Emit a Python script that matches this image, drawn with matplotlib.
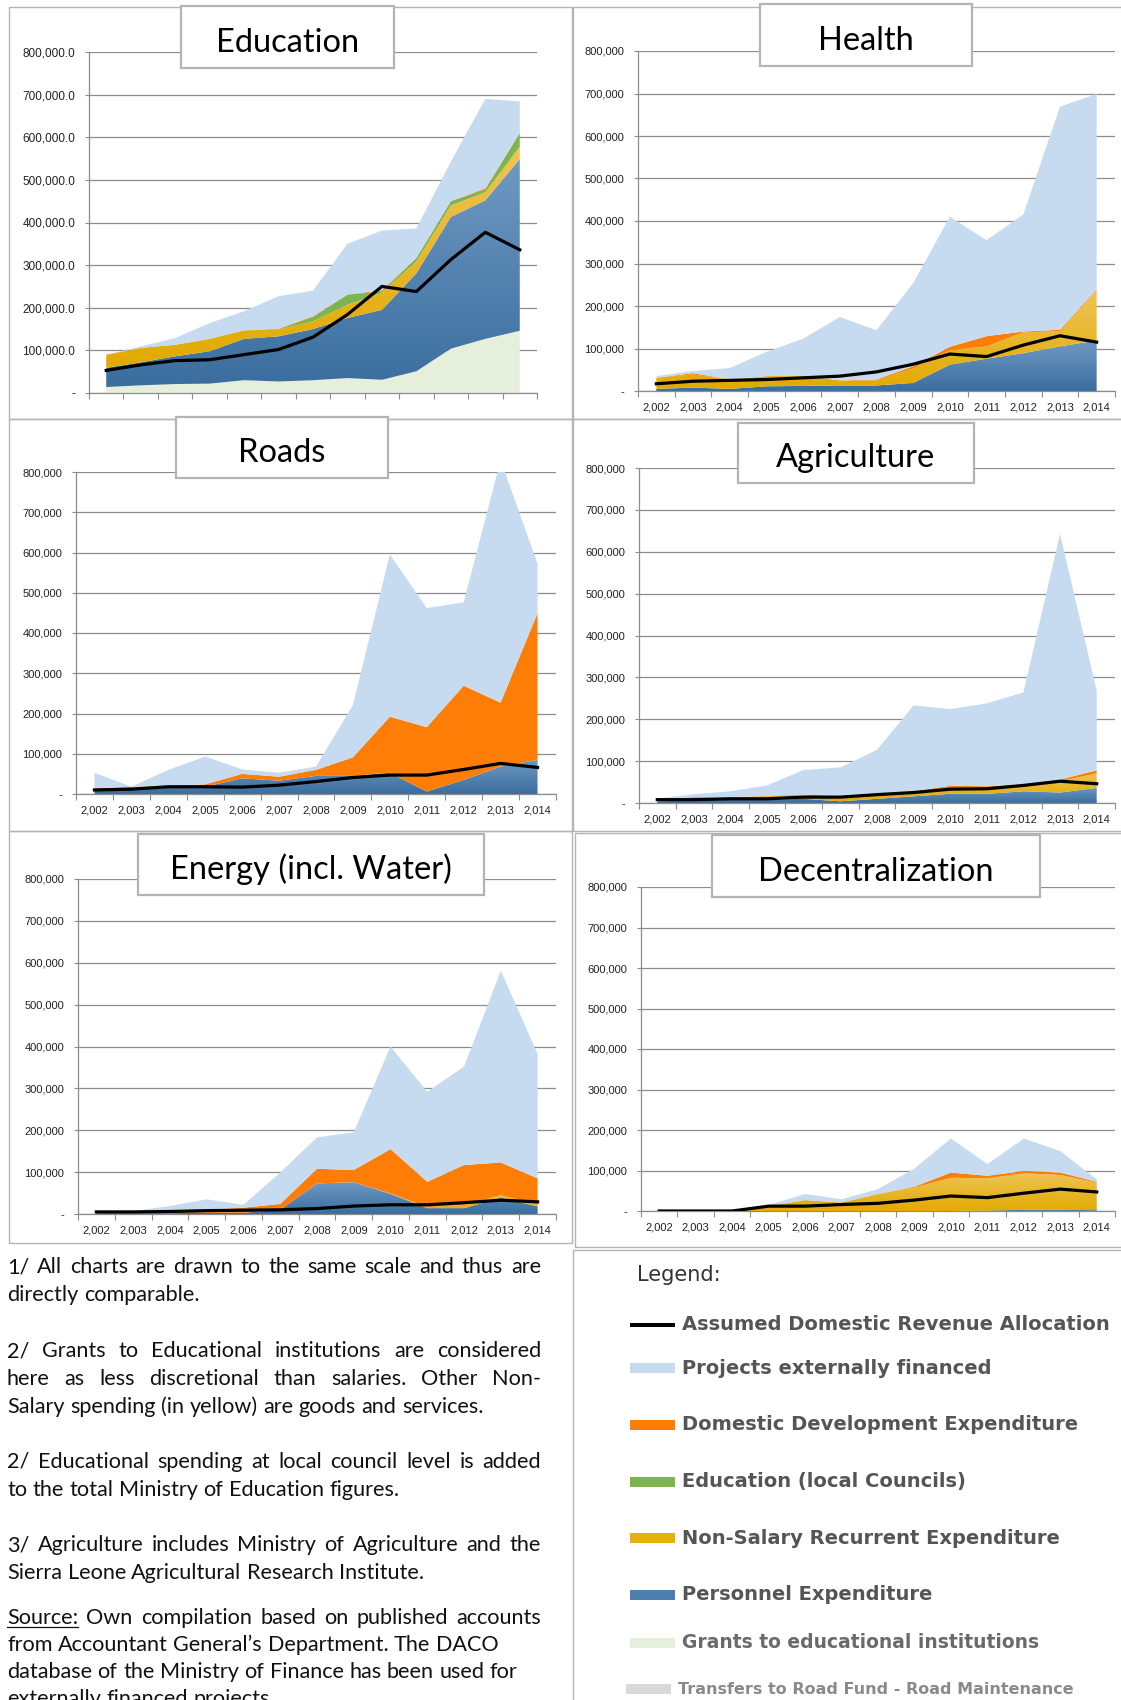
import numpy as np
import matplotlib
matplotlib.use('Agg')
import matplotlib.pyplot as plt
from matplotlib.patches import Rectangle
from matplotlib.lines import Line2D
from matplotlib.colors import LinearSegmentedColormap
from matplotlib.ticker import FuncFormatter

##############################################################################
# DATA (thousands)
##############################################################################
years = list(range(2002, 2015))
year_labels = ['{:,}'.format(y) for y in years]

# Education
edu_grants    = [14, 18, 21, 22, 30, 27, 30, 35, 31, 51, 104, 127, 146]
edu_personnel = [45, 54, 65, 76, 97, 106, 120, 141, 164, 230, 309, 325, 403]
edu_nonsalary = [29, 34, 27, 29, 20, 16, 18, 31, 40, 28, 27, 19, 29]
edu_councils  = [0, 0, 0, 0, 0, 1, 10, 24, 3, 8, 10, 6, 32]
edu_domdev    = [2, 0, 0, 0, 0, 1, 2, 0, 3, 0, 0, 3, 0]
edu_projects  = [0, 3, 16, 37, 45, 76, 60, 119, 140, 69, 93, 210, 74]
edu_domrev    = [53, 66, 76, 78, 90, 102, 131, 184, 250, 238, 313, 377, 336]

# Health
hea_personnel = [5, 8, 5, 11, 12, 13, 13, 19, 62, 76, 89, 105, 119]
hea_nonsalary = [26, 31, 22, 24, 23, 12, 12, 34, 34, 29, 49, 36, 118]
hea_domdev    = [0, 3, 0, 0, 1, 0, 2, 5, 8, 24, 2, 3, 2]
hea_projects  = [4, 5, 27, 57, 87, 149, 116, 196, 306, 226, 275, 525, 460]
hea_domrev    = [17, 23, 25, 27, 31, 35, 45, 63, 87, 81, 108, 130, 115]

# Roads
rd_personnel = [8, 12, 16, 18, 39, 33, 45, 45, 53, 6, 35, 68, 85]
rd_domdev    = [6, 6, 4, 6, 11, 10, 15, 46, 139, 160, 234, 159, 364]
rd_projects  = [39, 0, 40, 69, 11, 10, 8, 130, 403, 296, 207, 603, 123]
rd_domrev    = [10, 12, 18, 18, 17, 22, 31, 41, 47, 47, 61, 76, 66]

# Agriculture
ag_personnel = [4, 6, 8, 8, 10, 4, 10, 16, 22, 22, 28, 25, 36]
ag_nonsalary = [4, 6, 6, 8, 8, 6, 10, 9, 14, 14, 14, 27, 35]
ag_domdev    = [0, 2, 0, 1, 2, 7, 2, 3, 5, 4, 2, 4, 7]
ag_projects  = [2, 7, 14, 25, 59, 68, 105, 205, 183, 198, 220, 587, 190]
ag_domrev    = [8, 8, 10, 10, 14, 14, 20, 25, 33, 34, 42, 52, 46]

# Energy (incl. Water)
en_personnel = [2, 2, 2, 3, 3, 10, 73, 76, 48, 14, 14, 39, 18]
en_nonsalary = [0, 0, 0, 0, 0, 0, 0, 0, 1, 2, 8, 6, 4]
en_domdev    = [2, 4, 8, 7, 12, 14, 35, 29, 106, 61, 95, 78, 63]
en_projects  = [0, 1, 9, 25, 7, 75, 75, 90, 245, 215, 235, 458, 297]
en_domrev    = [5, 5, 6, 8, 9, 10, 13, 19, 22, 22, 27, 33, 29]

# Decentralization
dc_personnel = [0, 0, 0, 0, 0, 0, 0, 0, 0, 1, 3, 3, 2]
dc_nonsalary = [0, 0, 0, 12, 27, 21, 42, 58, 82, 80, 90, 86, 68]
dc_domdev    = [0, 0, 0, 0, 0, 0, 0, 2, 13, 6, 6, 6, 2]
dc_projects  = [0, 0, 0, 3, 15, 8, 12, 45, 84, 29, 80, 53, 6]
dc_domrev    = [0, 0, 0, 12, 12, 16, 19, 27, 37, 33, 44, 54, 47]

legend_labels = ['Assumed Domestic Revenue Allocation', 'Projects externally financed',
                 'Domestic Development Expenditure', 'Education (local Councils)',
                 'Non-Salary Recurrent Expenditure', 'Personnel Expenditure',
                 'Grants to educational institutions', 'Transfers to Road Fund - Road Maintenance']

notes = [
    ('1/ All charts are drawn to the same scale and thus are', True),
    ('directly comparable.', False),
    ('2/ Grants to Educational institutions are considered', True),
    ('here as less discretional than salaries. Other Non-', True),
    ('Salary spending (in yellow) are goods and services.', False),
    ('2/ Educational spending at local council level is added', True),
    ('to the total Ministry of Education figures.', False),
    ('3/ Agriculture includes Ministry of Agriculture and the', True),
    ('Sierra Leone Agricultural Research Institute.', False),
    ('Source: Own compilation based on published accounts', True),
    ('from Accountant General\u2019s Department. The DACO', False),
    ('database of the Ministry of Finance has been used for', False),
    ('externally financed projects.', False),
]

##############################################################################
# STYLE
##############################################################################
C_PROJ = '#c6dbef'
C_DOMDEV = '#fd7d06'
C_COUNCIL = '#7cb450'
C_NONSAL = '#e6b10a'
C_PERS = '#4a7fb0'
C_GRANTS = '#e5efdc'
C_ROADFUND = '#d9d9d9'
GRID = '#8c8c8c'
FRAME = '#b4b4b4'

W, H = 1121, 1700
fig = plt.figure(figsize=(W / 100, H / 100), dpi=100)
fig.patch.set_facecolor('white')
x = np.arange(len(years))


def fy(y):
    return 1 - y / H


def add_axes_px(l, t, r, b):
    return fig.add_axes([l / W, 1 - b / H, (r - l) / W, (b - t) / H])


def rect_px(l, t, r, b, **kw):
    p = Rectangle((l / W, 1 - b / H), (r - l) / W, (b - t) / H, transform=fig.transFigure, **kw)
    fig.add_artist(p)
    return p


def grad_fill(ax, lo, hi, c_top, c_bot, z):
    coll = ax.fill_between(x, lo, hi, facecolor='none', edgecolor='none', lw=0, zorder=z)
    if np.allclose(hi, lo):
        return
    cmap = LinearSegmentedColormap.from_list('g', [c_bot, c_top])
    im = ax.imshow(np.linspace(0, 1, 256).reshape(-1, 1), cmap=cmap, origin='lower', aspect='auto',
                   extent=[x[0], x[-1], lo.min(), hi.max()], zorder=z, interpolation='bilinear')
    im.set_clip_path(coll.get_paths()[0], transform=ax.transData)


def draw_panel(box, title, tbox, tbase, personnel, domdev, projects, domrev,
               nonsalary=None, grants=None, councils=None, xlabels=True, fmt='{:,.0f}', ysize=8):
    ax = add_axes_px(*box)
    base = np.zeros(len(x))
    z = 2
    layers = [(grants, 'flat', C_GRANTS), (personnel, 'grad', ('#7099c2', '#3a6e9f')),
              (nonsalary, 'grad', ('#eec455', '#e2aa00')), (councils, 'flat', C_COUNCIL),
              (domdev, 'flat', C_DOMDEV), (projects, 'flat', C_PROJ)]
    for vals, kind, col in layers:
        if vals is None:
            continue
        top = base + np.array(vals) * 1000.0
        if kind == 'grad':
            grad_fill(ax, base, top, col[0], col[1], z)
        else:
            ax.fill_between(x, base, top, facecolor=col, edgecolor='none', lw=0, zorder=z)
        base = top
        z += 1
    ax.plot(x, np.array(domrev) * 1000.0, color='black', lw=2.3, zorder=20)

    ax.set_xlim(-0.5, len(x) - 0.5)
    ax.set_ylim(0, 800000)
    ax.set_yticks(np.arange(0, 800001, 100000))
    ax.yaxis.set_major_formatter(FuncFormatter(lambda v, p: '-' if v == 0 else fmt.format(v)))
    ax.set_xticks(x)
    ax.set_xticklabels(year_labels if xlabels else [''] * len(x))
    ax.set_xticks(np.arange(-0.5, len(x)), minor=True)
    ax.tick_params(axis='x', which='major', length=0, pad=8, labelsize=8, labelcolor='#222222')
    ax.tick_params(axis='x', which='minor', length=4.5, width=0.8, color=GRID)
    ax.tick_params(axis='y', length=3, width=0.8, color=GRID, pad=7, labelsize=ysize, labelcolor='#222222')
    for lab in ax.get_xticklabels() + ax.get_yticklabels():
        lab.set_fontfamily('Liberation Sans')
    ax.yaxis.grid(True, color=GRID, lw=0.9)
    ax.set_axisbelow(True)
    for s in ['top', 'right']:
        ax.spines[s].set_visible(False)
    for s in ['left', 'bottom']:
        ax.spines[s].set_color(GRID)
        ax.spines[s].set_linewidth(0.9)

    rect_px(*tbox, facecolor='white', edgecolor=FRAME, lw=1.6, zorder=30)
    fig.text((tbox[0] + tbox[2]) / 2 / W, fy(tbase), title, ha='center', va='baseline',
             fontsize=23.5, family='Lato', color='black', zorder=31)
    return ax


##############################################################################
# PANEL FRAMES
##############################################################################
for l, t, r, b in [(9, 7, 572, 419), (9, 419, 572, 831), (9, 831, 572, 1243),
                   (573, 7, 1125, 419), (573, 419, 1125, 831), (575, 833, 1125, 1247),
                   (573, 1250, 1125, 1705)]:
    rect_px(l, t, r, b, facecolor='none', edgecolor=FRAME, lw=1.0, zorder=1)

##############################################################################
# CHARTS
##############################################################################
draw_panel((89, 52, 537, 393), 'Education', (181, 6, 394, 68), 52,
           edu_personnel, edu_domdev, edu_projects, edu_domrev,
           nonsalary=edu_nonsalary, grants=edu_grants, councils=edu_councils,
           xlabels=False, fmt='{:,.1f}', ysize=8.5)
draw_panel((638, 51, 1115, 391), 'Health', (760, 4, 972, 66), 50,
           hea_personnel, hea_domdev, hea_projects, hea_domrev, nonsalary=hea_nonsalary)
draw_panel((76, 472, 556, 794), 'Roads', (176, 417, 388, 478), 462,
           rd_personnel, rd_domdev, rd_projects, rd_domrev)
draw_panel((639, 468, 1115, 803), 'Agriculture', (738, 423, 974, 483), 467,
           ag_personnel, ag_domdev, ag_projects, ag_domrev, nonsalary=ag_nonsalary)
draw_panel((78, 879, 556, 1214), 'Energy (incl. Water)', (138, 834, 484, 895), 879,
           en_personnel, en_domdev, en_projects, en_domrev, nonsalary=en_nonsalary)
draw_panel((641, 887, 1115, 1211), 'Decentralization', (712, 835, 1040, 897), 881,
           dc_personnel, dc_domdev, dc_projects, dc_domrev, nonsalary=dc_nonsalary)

##############################################################################
# NOTES (left bottom)
##############################################################################
renderer = fig.canvas.get_renderer()
note_kw = dict(fontsize=15.6, family='Lato', color='#111111', va='baseline')
x0, x1 = 7, 541
note_y = [1273, 1301, 1357, 1385, 1413, 1468, 1496, 1551, 1579, 1624, 1651, 1678, 1705]

for (txt, justify), y in zip(notes, note_y):
    words = txt.split(' ')
    widths = []
    for w in words:
        t = fig.text(0, 0, w, **note_kw)
        widths.append(t.get_window_extent(renderer).width)
        t.remove()
    t1 = fig.text(0, 0, 'a b', **note_kw)
    t2 = fig.text(0, 0, 'ab', **note_kw)
    space = t1.get_window_extent(renderer).width - t2.get_window_extent(renderer).width
    t1.remove()
    t2.remove()
    if justify and len(words) > 1:
        gap = max((x1 - x0 - sum(widths)) / (len(words) - 1), space)
    else:
        gap = space
    xp = x0
    for w, wd in zip(words, widths):
        fig.text(xp / W, fy(y), w, **note_kw)
        if w == 'Source:':
            fig.add_artist(Line2D([xp / W, (xp + wd) / W], [fy(y + 3), fy(y + 3)],
                                  transform=fig.transFigure, color='#111111', lw=0.9))
        xp += wd + gap

##############################################################################
# LEGEND (right bottom)
##############################################################################
fig.text(637 / W, fy(1275), 'Legend:', fontsize=15, family='DejaVu Sans', color='#333333', va='center')
leg_y = [1325, 1368, 1425, 1482, 1538, 1595, 1643, 1689]
leg_cols = ['black', C_PROJ, C_DOMDEV, C_COUNCIL, C_NONSAL, C_PERS, C_GRANTS, C_ROADFUND]
leg_txt = ['#555555'] * 6 + ['#6a6a6a', '#8a8a8a']
leg_size = [14] * 6 + [13.5, 11.5]
leg_x = [630] * 7 + [626]
for lab, col, tc, fs, lx, y in zip(legend_labels, leg_cols, leg_txt, leg_size, leg_x, leg_y):
    if col == 'black':
        rect_px(lx, y - 2, lx + 45, y + 2, facecolor=col, edgecolor='none')
    else:
        rect_px(lx, y - 5, lx + 45, y + 5, facecolor=col, edgecolor='none')
    fig.text((lx + 52) / W, fy(y), lab, fontsize=fs, family='DejaVu Sans', weight='bold',
             color=tc, va='center')

fig.savefig('out.png', dpi=100, facecolor='white')
